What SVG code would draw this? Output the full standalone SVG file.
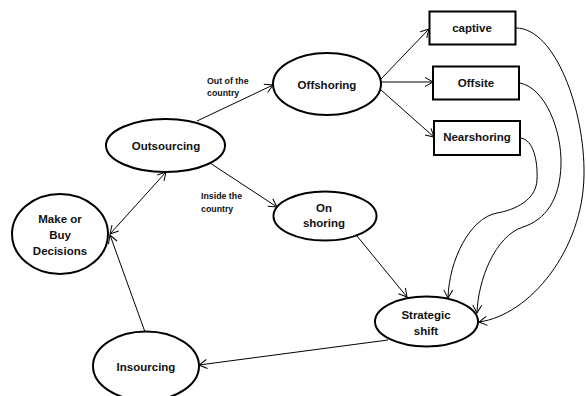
<svg xmlns="http://www.w3.org/2000/svg" width="586" height="396" viewBox="0 0 586 396">
<style>
.n{fill:#fff;stroke:#000;stroke-width:2}
.t{font-family:"Liberation Sans",Arial,sans-serif;font-weight:bold;font-size:11.5px;fill:#111;text-anchor:middle}
.s{font-family:"Liberation Sans",Arial,sans-serif;font-weight:bold;font-size:8.8px;fill:#111}
.c{fill:none;stroke:#000;stroke-width:1}
</style>
<defs>
<marker id="a" markerWidth="12" markerHeight="12" refX="9" refY="6" orient="auto-start-reverse" markerUnits="userSpaceOnUse">
<path d="M1,1.5 L9,6 L1,10.5" fill="none" stroke="#000" stroke-width="1"/>
</marker>
</defs>
<rect width="586" height="396" fill="#fff"/>
<g id="connectors">
<line class="c" x1="110" y1="234" x2="166" y2="172" marker-start="url(#a)" marker-end="url(#a)"/>
<line class="c" x1="145" y1="332" x2="110" y2="235" marker-end="url(#a)"/>
<line class="c" x1="197" y1="121" x2="273" y2="85" marker-end="url(#a)"/>
<line class="c" x1="210" y1="163" x2="277" y2="207" marker-end="url(#a)"/>
<line class="c" x1="381" y1="79" x2="429" y2="29" marker-end="url(#a)"/>
<line class="c" x1="381" y1="82" x2="433" y2="82" marker-end="url(#a)"/>
<line class="c" x1="381" y1="90" x2="434" y2="137" marker-end="url(#a)"/>
<line class="c" x1="357" y1="236" x2="407" y2="297" marker-end="url(#a)"/>
<line class="c" x1="388" y1="340" x2="199" y2="365" marker-end="url(#a)"/>
<path class="c" d="M516,28 C555,28 585,110 584,175 C583,250 530,315 479,322" marker-end="url(#a)"/>
<path class="c" d="M520,83 C545,88 562,130 561,165 C560,200 545,220 523,227 C495,236 478,280 477,313" marker-end="url(#a)"/>
<path class="c" d="M521,138 C533,140 538,160 537,180 C536,200 515,210 497,213 C470,218 449,260 448,298" marker-end="url(#a)"/>
</g>
<text class="s" x="207" y="84">Out of the</text>
<text class="s" x="207" y="96">country</text>
<text class="s" x="201" y="199">Inside the</text>
<text class="s" x="201" y="212">country</text>
<g id="make">
<ellipse class="n" cx="60" cy="234" rx="48" ry="40"/>
<text class="t" x="60" y="223">Make or</text>
<text class="t" x="60" y="239">Buy</text>
<text class="t" x="60" y="255">Decisions</text>
</g>
<g id="outsourcing">
<ellipse class="n" cx="165.5" cy="145.5" rx="59.5" ry="26.5"/>
<text class="t" x="166" y="150">Outsourcing</text>
</g>
<g id="offshoring">
<ellipse class="n" cx="327" cy="84" rx="54" ry="31"/>
<text class="t" x="327" y="89">Offshoring</text>
</g>
<g id="onshoring">
<ellipse class="n" cx="325" cy="216" rx="51.5" ry="24.5"/>
<text class="t" x="324" y="212">On</text>
<text class="t" x="324" y="227">shoring</text>
</g>
<g id="captive">
<rect class="n" x="429.5" y="11.5" width="86" height="33"/>
<text class="t" x="472" y="32">captive</text>
</g>
<g id="offsite">
<rect class="n" x="433" y="66.5" width="86" height="33"/>
<text class="t" x="476" y="87">Offsite</text>
</g>
<g id="nearshoring">
<rect class="n" x="434" y="121" width="86" height="34"/>
<text class="t" x="477" y="141">Nearshoring</text>
</g>
<g id="strategic">
<ellipse class="n" cx="426.5" cy="321.5" rx="51.5" ry="25"/>
<text class="t" x="426" y="319">Strategic</text>
<text class="t" x="426" y="335">shift</text>
</g>
<g id="insourcing">
<ellipse class="n" cx="146" cy="366" rx="53" ry="34.5"/>
<text class="t" x="146" y="371">Insourcing</text>
</g>
</svg>
